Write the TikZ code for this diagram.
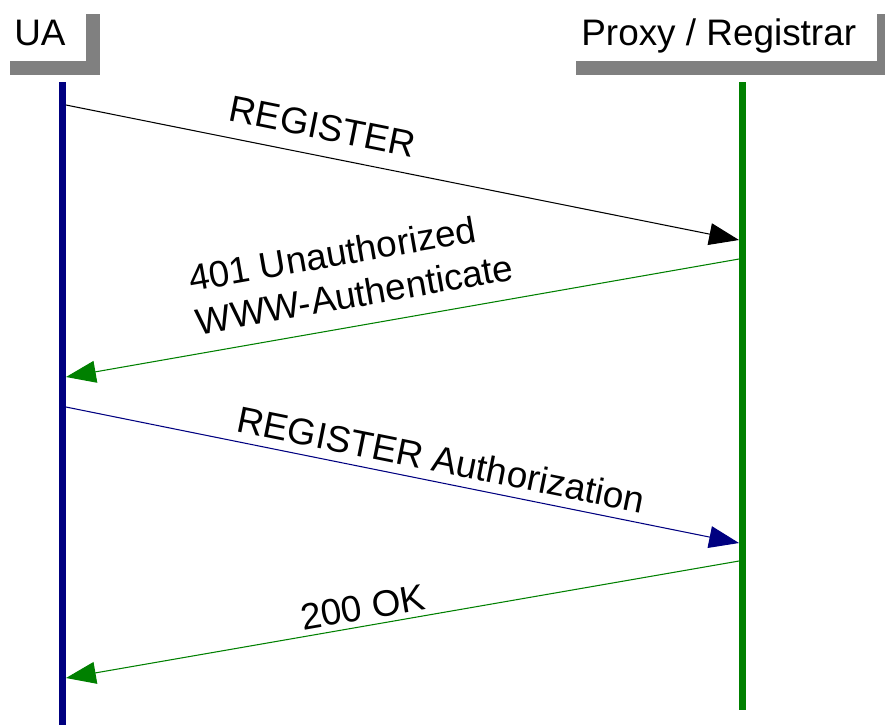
\documentclass[tikz,border=0pt]{standalone}
\usepackage{fontspec}
\setmainfont{Liberation Sans}
\usetikzlibrary{arrows.meta}
\definecolor{uablue}{RGB}{0,0,128}
\definecolor{regGreen}{RGB}{0,128,0}
\definecolor{shadeGray}{RGB}{128,128,128}

\tikzset{
  msg/.style={line width=0.6pt,-{Triangle[length=17pt,width=12.5pt]}},
  msglabel/.style={sloped,above,font=\fontsize{21}{25}\selectfont},
  actor/.style={anchor=base west,inner sep=0pt,font=\fontsize{21}{25}\selectfont},
}

\begin{document}
\begin{tikzpicture}[x=0.02cm,y=-0.02cm]
\useasboundingbox (0,0) rectangle (885,725);

% heads with their shadow
\fill[shadeGray] (10,14) rectangle (100,75);
\fill[white] (0,0) rectangle (86,61);
\fill[shadeGray] (576,14) rectangle (885,75);
\fill[white] (562,0) rectangle (877,61);
\node[actor] (ua) at (14,45) {UA};
\node[actor] (proxy) at (581,45) {Proxy / Registrar};

% lifelines
\coordinate (uatop) at (62.5,82);
\coordinate (uabot) at (62.5,725);
\coordinate (proxytop) at (742.5,82);
\coordinate (proxybot) at (742.5,710);
\draw[color=uablue,line width=4pt] (uatop) -- (uabot);
\draw[color=regGreen,line width=4pt] (proxytop) -- (proxybot);

\coordinate (ua1) at (66,105);
\coordinate (px1) at (739,240);
\coordinate (px2) at (739,259);
\coordinate (ua2) at (66,377);
\coordinate (ua3) at (66,407);
\coordinate (px3) at (739,543);
\coordinate (px4) at (739,561);
\coordinate (ua4) at (66,678);

% messages
\draw[msg,color=black] (ua1) -- node[msglabel,pos=0.373,inner sep=9pt] (reg) {REGISTER} (px1);
\draw[msg,color=regGreen] (px2) -- node[msglabel,pos=0.563,inner sep=10pt,align=left,text=black] (unauth) {401 Unauthorized\\WWW-Authenticate} (ua2);
\draw[msg,color=uablue] (ua3) -- node[msglabel,pos=0.551,inner sep=5pt,text=black] (regauth) {REGISTER Authorization} (px3);
\draw[msg,color=regGreen] (px4) -- node[msglabel,pos=0.554,inner sep=3pt,text=black] (ok) {200 OK} (ua4);
\end{tikzpicture}
\end{document}
